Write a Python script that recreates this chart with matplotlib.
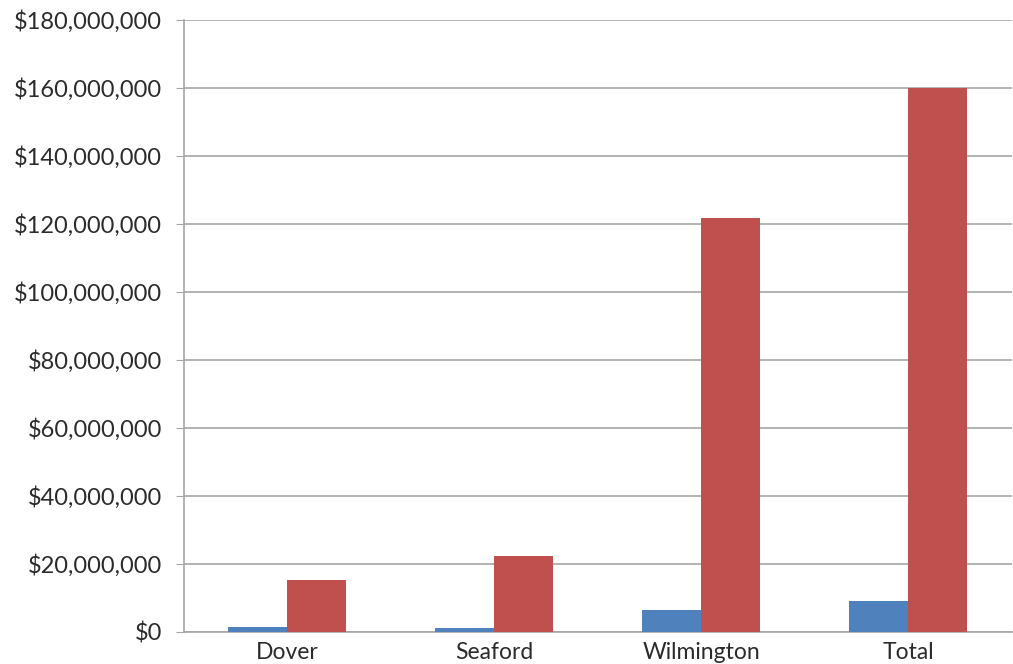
import matplotlib
matplotlib.use('Agg')
import matplotlib.pyplot as plt
import matplotlib.ticker as mticker
import numpy as np

plt.rcParams['font.family'] = ['Lato', 'DejaVu Sans']

# villes et montants
categories = ["Dover", "Seaford", "Wilmington", "Total"]
serie_bleue = [1_500_000, 1_100_000, 6_500_000, 9_200_000]
serie_rouge = [15_400_000, 22_400_000, 121_800_000, 160_000_000]
y_ticks = np.arange(0, 180_000_001, 20_000_000)

fig = plt.figure(figsize=(10.13, 6.64), dpi=100)
ax = fig.add_axes([0.1816, 0.0482, 0.8174, 0.9217])

x = np.arange(len(categories))
largeur = 0.285
ax.bar(x - largeur / 2, serie_bleue, width=largeur, color='#4F81BD', zorder=3)
ax.bar(x + largeur / 2, serie_rouge, width=largeur, color='#C0504D', zorder=3)

ax.set_xlim(-0.5, len(categories) - 0.5)
ax.set_ylim(0, 180_000_000)
ax.set_yticks(y_ticks)
ax.yaxis.set_major_formatter(mticker.FuncFormatter(lambda v, p: f"${v:,.0f}"))
ax.set_xticks(x)
ax.set_xticklabels(categories)

ax.grid(axis='y', color='#A6A6A6', linewidth=1.2, zorder=0)
for s in ['top', 'right']:
    ax.spines[s].set_visible(False)
ax.spines['left'].set_color('#A6A6A6')
ax.spines['bottom'].set_color('#A6A6A6')
ax.spines['left'].set_linewidth(1.2)
ax.spines['bottom'].set_linewidth(1.2)

ax.tick_params(axis='y', length=6, color='#A6A6A6', labelsize=17, labelcolor='#2b2b2b', pad=10)
ax.tick_params(axis='x', length=0, labelsize=16.5, labelcolor='#2b2b2b', pad=7)

fig.savefig('out.png', dpi=100)
